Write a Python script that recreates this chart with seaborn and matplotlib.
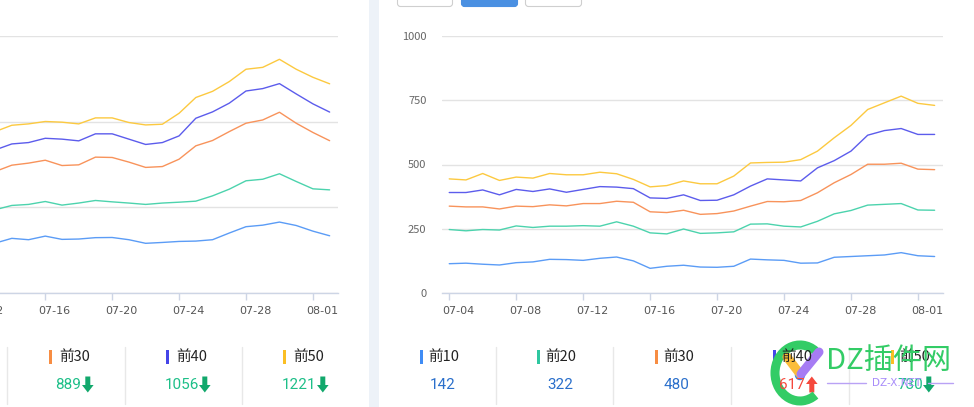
import numpy as np
import pandas as pd
import matplotlib
matplotlib.use("Agg")
import matplotlib.pyplot as plt
import seaborn as sns
from matplotlib.transforms import ScaledTranslation
from matplotlib.patches import Rectangle, Polygon, FancyBboxPatch, Arc, Circle

# data
dates = [d.strftime("%m-%d") for d in pd.date_range("2023-07-04", "2023-08-02")]
tick_dates = ["07-04", "07-08", "07-12", "07-16", "07-20", "07-24", "07-28", "08-01"]

right_top10 = [114, 116, 112, 109, 118, 121, 131, 130, 127, 135, 140, 125, 96, 104, 108,
               101, 100, 104, 132, 129, 127, 116, 117, 139, 142, 145, 148, 157, 145, 142]
right_top20 = [247, 242, 247, 245, 261, 255, 260, 260, 262, 260, 277, 260, 234, 230, 249,
               232, 234, 238, 268, 269, 260, 257, 279, 308, 321, 342, 345, 348, 323, 322]
right_top30 = [338, 335, 335, 327, 338, 336, 343, 339, 348, 348, 357, 353, 316, 313, 322,
               306, 309, 319, 338, 356, 355, 360, 390, 429, 461, 501, 501, 505, 482, 480]
right_top40 = [391, 391, 401, 382, 403, 395, 405, 392, 403, 414, 412, 406, 370, 368, 382,
               360, 361, 382, 416, 444, 440, 436, 487, 515, 552, 614, 632, 640, 617, 617]
right_top50 = [444, 440, 465, 438, 451, 447, 465, 460, 460, 470, 464, 442, 413, 418, 436,
               425, 425, 455, 506, 508, 509, 519, 552, 604, 652, 714, 740, 766, 738, 730]

# left chart is cut off at the page edge: only 07-13 onwards is visible
left_dates = dates[9:]
left_top10 = [291, 319, 311, 332, 313, 315, 323, 324, 311, 290, 295, 301, 303, 311, 350,
              387, 396, 414, 394, 361, 334]
left_top20 = [486, 511, 517, 534, 513, 525, 540, 532, 525, 517, 525, 530, 536, 567, 606,
              655, 664, 696, 651, 608, 602]
left_top30 = [709, 746, 758, 775, 744, 748, 793, 791, 764, 733, 738, 781, 859, 890, 942,
              991, 1010, 1055, 991, 937, 889]
left_top40 = [835, 870, 878, 903, 898, 888, 929, 929, 898, 867, 878, 917, 1020, 1057, 1108,
              1179, 1193, 1222, 1162, 1104, 1056]
left_top50 = [942, 979, 987, 1001, 997, 987, 1022, 1022, 995, 981, 985, 1049, 1141, 1177, 1234,
              1306, 1317, 1364, 1306, 1259, 1221]

series_names = ["前10", "前20", "前30", "前40", "前50"]
line_colors = ["#5b9cf6", "#4cd3ad", "#f8935b", "#5c5cec", "#fcc940"]
bar_colors = ["#3f8cf5", "#2ec7a0", "#f78d43", "#4545e8", "#fbbf24"]

left_stat_names = ["前30", "前40", "前50"]
left_stat_values = ["889", "1056", "1221"]
right_stat_values = ["142", "322", "480", "617", "730"]
right_stat_trend = [None, None, None, "up", "down"]

W, H = 974, 407
sns.set_theme(style="white")
plt.rcParams["font.family"] = ["Noto Sans CJK SC", "DejaVu Sans"]

fig = plt.figure(figsize=(W / 100, H / 100), dpi=100)
fig.patch.set_facecolor("white")


def px_axes(x0, y0, x1, y1):
    return fig.add_axes([x0 / W, 1 - y1 / H, (x1 - x0) / W, (y1 - y0) / H])


def style_chart(ax, ymax, step):
    ax.set_facecolor("none")
    for s in ["top", "right", "left"]:
        ax.spines[s].set_visible(False)
    ax.spines["bottom"].set_color("#cdd5e5")
    ax.spines["bottom"].set_linewidth(1)
    ax.set_ylim(0, ymax)
    ax.set_yticks(np.arange(0, ymax + 1, step))
    ax.yaxis.grid(True, color="#e3e3e3", linewidth=1)
    ax.xaxis.grid(False)
    ax.set_axisbelow(True)
    ax.tick_params(axis="y", length=0, pad=11, labelsize=8, labelcolor="#666666")
    ax.tick_params(axis="x", length=5, width=1, color="#cdd5e5", pad=4,
                   labelsize=8, labelcolor="#555555", bottom=True)
    ticks = [dates.index(t) for t in tick_dates]
    ax.set_xticks(ticks)
    ax.set_xticklabels(tick_dates, family="DejaVu Sans")
    for lab in ax.get_xticklabels():
        lab.set_transform(lab.get_transform() + ScaledTranslation(0.095, 0, fig.dpi_scale_trans))
    ax.set_xlim(-0.45, 29.5)
    ax.set_xlabel("")
    ax.set_ylabel("")


# left chart (partly off the page)
axl = px_axes(-163, 36, 338, 293)
left_series = [left_top10, left_top20, left_top30, left_top40, left_top50]
left_x = [dates.index(d) for d in left_dates]
for vals, c in zip(left_series, line_colors):
    sns.lineplot(x=left_x, y=vals, color=c, linewidth=1.0, ax=axl)
style_chart(axl, 1500, 500)

# right chart
axr = px_axes(441.7, 36, 943, 293)
right_series = [right_top10, right_top20, right_top30, right_top40, right_top50]
for vals, c in zip(right_series, line_colors):
    sns.lineplot(x=list(range(len(dates))), y=vals, color=c, linewidth=1.0, ax=axr)
style_chart(axr, 1000, 250)

# overlay in pixel coordinates
ov = fig.add_axes([0, 0, 1, 1])
ov.set_xlim(0, W)
ov.set_ylim(H, 0)
ov.axis("off")
ov.set_zorder(5)

ov.add_patch(Rectangle((369, 0), 10, H, color="#edf2f8", lw=0))

# buttons at top of right panel
ov.add_patch(FancyBboxPatch((397.5, -12), 55, 18.5, boxstyle="round,pad=0,rounding_size=3",
                            fc="white", ec="#cfcfcf", lw=0.8))
ov.add_patch(FancyBboxPatch((461.5, -12), 56, 18.5, boxstyle="round,pad=0,rounding_size=3",
                            fc="#4a90e2", ec="#4a90e2", lw=0.8))
ov.add_patch(FancyBboxPatch((525.5, -12), 56, 18.5, boxstyle="round,pad=0,rounding_size=3",
                            fc="white", ec="#cfcfcf", lw=0.8))

# stat separators
for x in [7, 125, 242, 496, 613, 731, 849]:
    ov.plot([x, x], [347, 404], color="#e8e8e8", lw=1)


def draw_arrow(x0, yc, color, up=False):
    s = -1 if up else 1
    top, bot = yc - 8 * s, yc + 8 * s
    mid = yc + 0.5 * s
    pts = [(x0 + 3.3, top), (x0 + 8.3, top), (x0 + 8.3, mid), (x0 + 11.6, mid),
           (x0 + 5.8, bot), (x0, mid), (x0 + 3.3, mid)]
    ov.add_patch(Polygon(pts, closed=True, fc=color, ec="none"))


VAL_FONT = dict(fontsize=11, family="Roboto", va="center", ha="left")

# left stats
left_bar_x = [49, 166, 283]
left_val_x = [55, 165, 282]
left_arrow_x = [82, 199, 317]
for i, name in enumerate(left_stat_names):
    c = bar_colors[series_names.index(name)]
    ov.add_patch(Rectangle((left_bar_x[i], 349.5), 3, 14, color=c, lw=0))
    ov.text(left_bar_x[i] + 10, 357, name, fontsize=10.5, color="#222222", va="center", ha="left")
    ov.text(left_val_x[i], 385, left_stat_values[i], color="#1dbf88", **VAL_FONT)
    draw_arrow(left_arrow_x[i], 384.5, "#12a86c")

# right stats
right_bar_x = [420, 537, 654.5, 772.5, 891]
right_val_x = [430, 547, 664, 778.5, 897]
right_arrow_x = [None, None, None, 806, 923]
for i, name in enumerate(series_names):
    ov.add_patch(Rectangle((right_bar_x[i], 349.5), 3, 14, color=bar_colors[i], lw=0))
    ov.text(right_bar_x[i] + 8.5, 357, name, fontsize=10.5, color="#222222", va="center", ha="left")
    trend = right_stat_trend[i]
    vc = "#2a6fcb" if trend is None else ("#f5483c" if trend == "up" else "#1dbf88")
    ov.text(right_val_x[i], 385, right_stat_values[i], color=vc, **VAL_FONT)
    if trend == "up":
        draw_arrow(right_arrow_x[i], 384.5, "#f5483c", up=True)
    elif trend == "down":
        draw_arrow(right_arrow_x[i], 384.5, "#12a86c")

# watermark logo
ov.add_patch(Arc((800, 373), 50, 56, theta1=55, theta2=305, color="#33cc66", lw=6.5))
ov.plot([787, 800], [357, 374], color="#fbbd3b", lw=6.5, solid_capstyle="round")
ov.plot([819, 801], [352, 374], color="#a67cf4", lw=6.5, solid_capstyle="round")
ov.add_patch(Circle((800, 375), 4.5, color="#2f80ed"))
ov.text(826, 361, "DZ插件网", fontsize=21, color="#33cc66", va="center", ha="left")
ov.plot([827, 866], [383, 383], color="#b9a2f5", lw=1)
ov.plot([928, 953], [383, 383], color="#b9a2f5", lw=1)
ov.text(897, 383, "DZ-X.NET", fontsize=7.5, color="#a78bfa", va="center", ha="center",
        family="DejaVu Sans")

fig.savefig("out.png", dpi=100, facecolor="white")
